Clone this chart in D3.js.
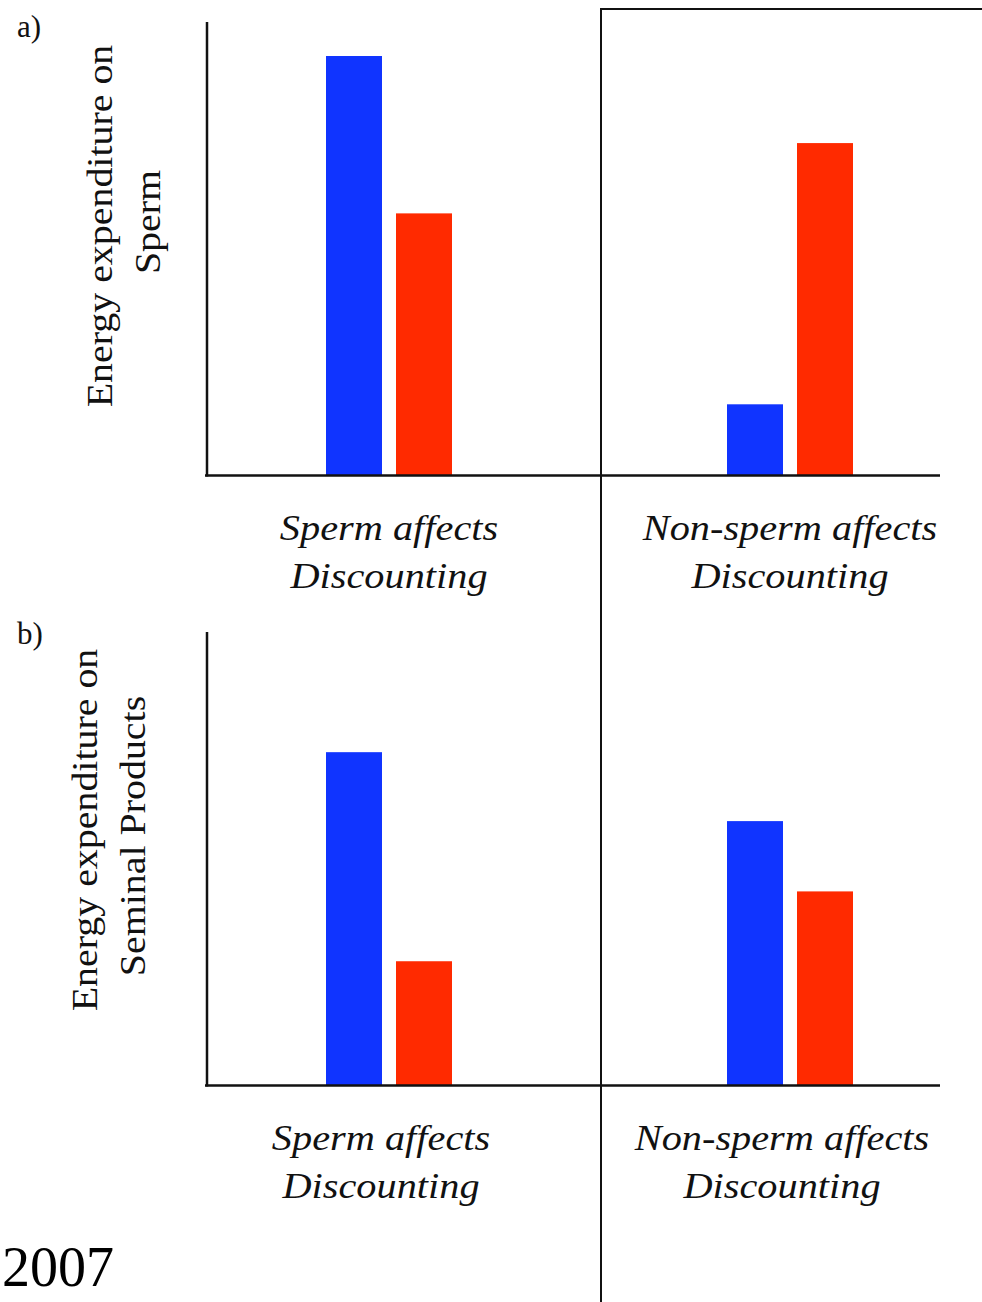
<!DOCTYPE html>
<html>
<head>
<meta charset="utf-8">
<script src="https://cdn.jsdelivr.net/npm/d3@7"></script>
<style>
  html, body { margin: 0; padding: 0; background: #fff; }
  svg { display: block; }
</style>
</head>
<body>
<svg id="chart" width="982" height="1302"></svg>
<script>
// Categories (x groups) and series
const categories = ["Sperm affects|Discounting", "Non-sperm affects|Discounting"];
const seriesNames = ["blue", "red"];
const seriesColors = ["#1034ff", "#ff2a00"];

// Relative energy expenditure (arbitrary units, 0-100)
const spermValuesBlue = [92.5, 15.7];
const spermValuesRed = [57.8, 73.3];
const seminalValuesBlue = [73.5, 58.3];
const seminalValuesRed = [27.4, 42.8];

const panelTags = ["a)", "b)"];
const yTitles = [["Energy expenditure on", "Sperm"], ["Energy expenditure on", "Seminal Products"]];
const yearLabel = "2007";

const svg = d3.select("#chart");
const W = 982, H = 1302;
const SERIF = "'Liberation Serif', 'Times New Roman', serif";

const panels = [
  { tag: panelTags[0], title: yTitles[0], blue: spermValuesBlue, red: spermValuesRed,
    base: 475.5, top: 22, tagY: 37, titleX: [112, 160], titleY: [226, 222], labelBase: 540, labelDx: 0 },
  { tag: panelTags[1], title: yTitles[1], blue: seminalValuesBlue, red: seminalValuesRed,
    base: 1085.5, top: 632, tagY: 644, titleX: [97, 145], titleY: [830, 836], labelBase: 1150, labelDx: -8 }
];

const x0 = d3.scaleBand().domain(categories).range([188.5, 990.5]).padding(0);
const x1 = d3.scaleBand().domain(seriesNames).range([-63, 63]).paddingInner(0.2).paddingOuter(0);
const color = d3.scaleOrdinal().domain(seriesNames).range(seriesColors);

panels.forEach(p => {
  const y = d3.scaleLinear().domain([0, 100]).range([p.base, p.top]);
  const g = svg.append("g");

  // bars
  const groups = g.selectAll("g.grp").data(categories).join("g")
    .attr("transform", d => `translate(${x0(d) + x0.bandwidth() / 2},0)`);
  groups.selectAll("rect")
    .data((d, i) => seriesNames.map(s => ({ s, v: s === "blue" ? p.blue[i] : p.red[i] })))
    .join("rect")
    .attr("x", d => x1(d.s))
    .attr("width", x1.bandwidth())
    .attr("y", d => y(d.v))
    .attr("height", d => y(0) - y(d.v))
    .attr("fill", d => color(d.s));

  // axes (plain lines, no ticks)
  g.append("line").attr("x1", 207).attr("x2", 207).attr("y1", p.top).attr("y2", p.base + 1)
    .attr("stroke", "#111").attr("stroke-width", 2.5);
  g.append("line").attr("x1", 205).attr("x2", 940).attr("y1", p.base).attr("y2", p.base)
    .attr("stroke", "#111").attr("stroke-width", 2.5);

  // category labels (slightly widened italic serif)
  categories.forEach(c => {
    const lines = c.split("|");
    const cx = x0(c) + x0.bandwidth() / 2 + p.labelDx;
    lines.forEach((l, i) => {
      g.append("text")
        .attr("transform", `translate(${cx},${p.labelBase + i * 48}) scale(1.12,1)`)
        .attr("text-anchor", "middle")
        .style("font-family", SERIF)
        .style("font-style", "italic")
        .style("font-size", "36px")
        .attr("fill", "#111")
        .text(l);
    });
  });

  // y title
  p.title.forEach((l, i) => {
    g.append("text")
      .attr("transform", `translate(${p.titleX[i]},${p.titleY[i]}) rotate(-90) scale(1.14,1)`)
      .attr("text-anchor", "middle")
      .style("font-family", SERIF)
      .style("font-size", "35px")
      .attr("fill", "#111")
      .text(l);
  });

  // panel tag
  g.append("text").attr("x", 17).attr("y", p.tagY)
    .style("font-family", SERIF)
    .style("font-size", "31px").attr("fill", "#111").text(p.tag);
});

// divider lines
svg.append("line").attr("x1", 601).attr("x2", 601).attr("y1", 8).attr("y2", H)
  .attr("stroke", "#111").attr("stroke-width", 2);
svg.append("line").attr("x1", 600).attr("x2", W).attr("y1", 9).attr("y2", 9)
  .attr("stroke", "#111").attr("stroke-width", 2);

// year
svg.append("text").attr("x", 2).attr("y", 1286)
  .style("font-family", SERIF)
  .style("font-size", "56px").attr("fill", "#000").text(yearLabel);
</script>
</body>
</html>
